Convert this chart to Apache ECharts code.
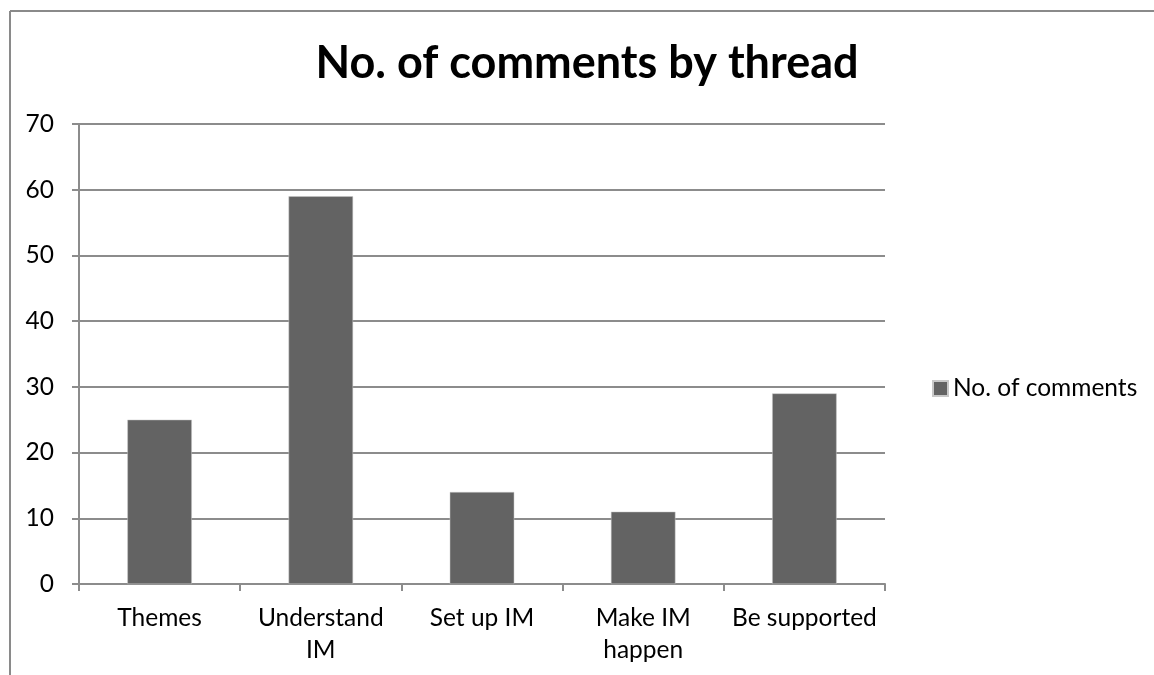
<!DOCTYPE html>
<html><head><meta charset="utf-8">
<script src="https://cdn.jsdelivr.net/npm/echarts@6/dist/echarts.min.js"></script>
<style>html,body{margin:0;padding:0;background:#fff}#c{width:1154px;height:675px}</style>
</head><body><div id="c"></div>
<script>
const categories = ["Themes", "Understand\nIM", "Set up IM", "Make IM\nhappen", "Be supported"];
const values = [25, 59, 14, 11, 29];
const seriesName = "No. of comments";
const yTicks = [0, 10, 20, 30, 40, 50, 60, 70];
const titleText = "No. of comments by thread";

const FONT = "Lato";
const chart = echarts.init(document.getElementById('c'), null, {renderer: 'canvas'});
chart.setOption({
  animation: false,
  backgroundColor: '#fff',
  graphic: [
    {type: 'line', shape: {x1: 10, y1: 11, x2: 1154, y2: 11}, style: {stroke: '#8a8a8a', lineWidth: 2}},
    {type: 'line', shape: {x1: 10, y1: 11, x2: 10, y2: 675}, style: {stroke: '#8a8a8a', lineWidth: 2}}
  ],
  title: {
    text: titleText, left: 582, top: 36, textAlign: 'center',
    textStyle: {fontFamily: FONT, fontSize: 45, fontWeight: 'bold', color: '#000'}
  },
  legend: {
    data: [seriesName], left: 927, top: 371, itemWidth: 15, itemHeight: 15, itemGap: 8,
    icon: 'rect',
    textStyle: {fontFamily: FONT, fontSize: 24.5, color: '#000'}
  },
  grid: {left: 79, right: 269, top: 124, bottom: 91, containLabel: false},
  xAxis: {
    type: 'category', data: categories,
    axisLine: {lineStyle: {color: '#8c8c8c', width: 2}},
    axisTick: {show: true, alignWithLabel: false, length: 7, lineStyle: {color: '#8c8c8c', width: 2}},
    axisLabel: {fontFamily: FONT, fontSize: 24.5, color: '#000', margin: 18, lineHeight: 32, interval: 0}
  },
  yAxis: {
    type: 'value', min: 0, max: 70, interval: 10,
    axisLine: {show: true, lineStyle: {color: '#8c8c8c', width: 2}},
    axisTick: {show: true, length: 7, lineStyle: {color: '#8c8c8c', width: 2}},
    splitLine: {lineStyle: {color: '#8c8c8c', width: 2}},
    axisLabel: {fontFamily: FONT, fontSize: 24.5, color: '#000', margin: 25,
      formatter: v => yTicks.includes(v) ? String(v) : ''}
  },
  series: [{
    name: seriesName, type: 'bar', data: values, barCategoryGap: '60%',
    itemStyle: {color: '#636363', borderColor: '#c8c8c8', borderWidth: 0.5}
  }]
});
</script></body></html>
